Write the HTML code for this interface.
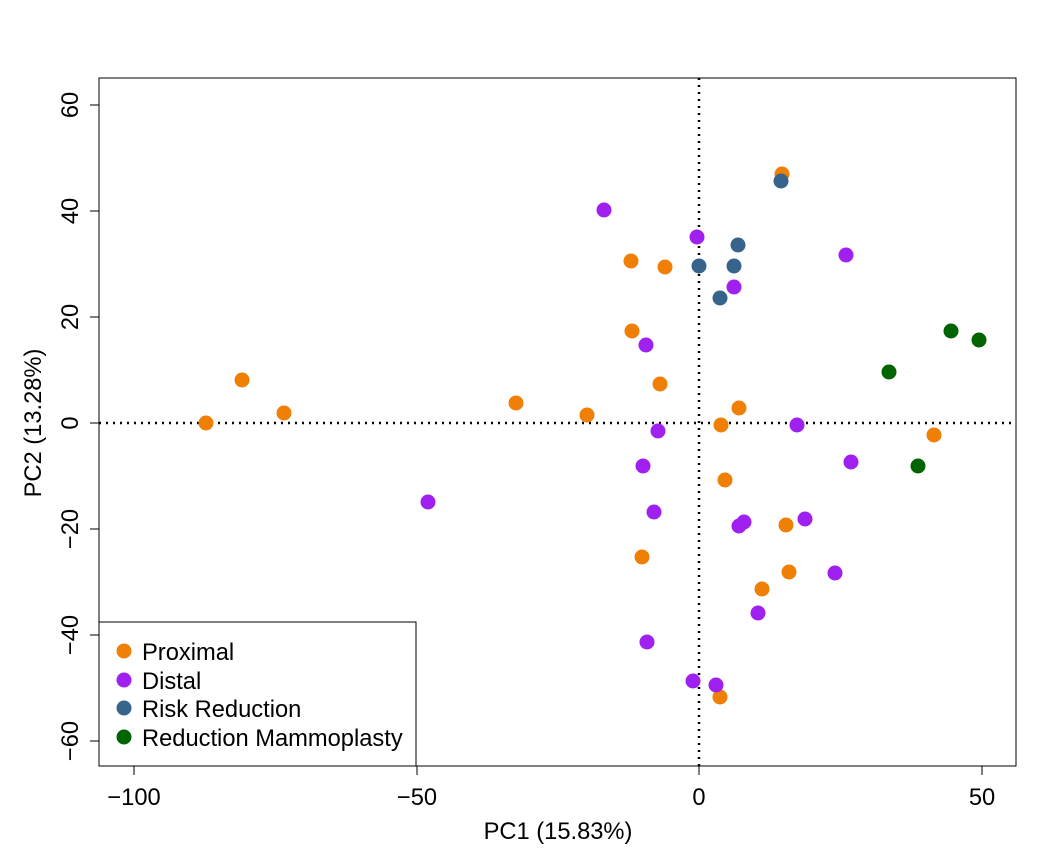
<!DOCTYPE html>
<html><head><meta charset="utf-8"><style>
html,body{margin:0;padding:0;background:#fff;}
svg{display:block;font-family:"Liberation Sans",sans-serif;}
circle{r:7.5px;}
</style></head><body>
<svg width="1056" height="864" viewBox="0 0 1056 864" xmlns="http://www.w3.org/2000/svg">
<rect x="99" y="78" width="917" height="688" fill="none" stroke="#000" stroke-width="1"/>
<line x1="699" y1="78" x2="699" y2="766" stroke="#000" stroke-width="2.5" stroke-dasharray="2,5"/>
<line x1="99" y1="423" x2="1016" y2="423" stroke="#000" stroke-width="2.5" stroke-dasharray="2,5"/>
<g stroke="#000" stroke-width="1">
<line x1="134" y1="766" x2="982" y2="766"/>
<line x1="134" y1="766" x2="134" y2="775"/><line x1="417" y1="766" x2="417" y2="775"/>
<line x1="699" y1="766" x2="699" y2="775"/><line x1="982" y1="766" x2="982" y2="775"/>
<line x1="99" y1="105" x2="99" y2="741"/>
<line x1="90" y1="105" x2="99" y2="105"/><line x1="90" y1="211" x2="99" y2="211"/>
<line x1="90" y1="317" x2="99" y2="317"/><line x1="90" y1="423" x2="99" y2="423"/>
<line x1="90" y1="529" x2="99" y2="529"/><line x1="90" y1="635" x2="99" y2="635"/>
<line x1="90" y1="741" x2="99" y2="741"/>
</g>
<g font-size="23.7" text-anchor="middle" fill="#000">
<text x="134" y="805">−100</text><text x="417" y="805">−50</text>
<text x="699" y="805">0</text><text x="982" y="805">50</text>
<text x="558" y="839">PC1 (15.83%)</text>
</g>
<g font-size="23.7" text-anchor="middle" fill="#000">
<text transform="translate(78,105) rotate(-90)">60</text>
<text transform="translate(78,211) rotate(-90)">40</text>
<text transform="translate(78,317) rotate(-90)">20</text>
<text transform="translate(78,423) rotate(-90)">0</text>
<text transform="translate(78,529) rotate(-90)">−20</text>
<text transform="translate(78,635) rotate(-90)">−40</text>
<text transform="translate(78,741) rotate(-90)">−60</text>
<text transform="translate(41,423) rotate(-90)">PC2 (13.28%)</text>
</g>
<g fill="#F07F06">
<circle cx="782" cy="174" r="7.5"/><circle cx="631" cy="261" r="7.5"/><circle cx="665" cy="267" r="7.5"/>
<circle cx="632" cy="331" r="7.5"/><circle cx="660" cy="384" r="7.5"/><circle cx="242" cy="380" r="7.5"/>
<circle cx="284" cy="413" r="7.5"/><circle cx="206" cy="423" r="7.5"/><circle cx="516" cy="403" r="7.5"/>
<circle cx="587" cy="415" r="7.5"/><circle cx="739" cy="408" r="7.5"/><circle cx="721" cy="425" r="7.5"/>
<circle cx="934" cy="435" r="7.5"/><circle cx="725" cy="480" r="7.5"/><circle cx="786" cy="525" r="7.5"/>
<circle cx="642" cy="557" r="7.5"/><circle cx="789" cy="572" r="7.5"/><circle cx="762" cy="589" r="7.5"/>
<circle cx="720" cy="697" r="7.5"/>
</g>
<g fill="#A020F0">
<circle cx="604" cy="210" r="7.5"/><circle cx="697" cy="237" r="7.5"/><circle cx="846" cy="255" r="7.5"/>
<circle cx="734" cy="287" r="7.5"/><circle cx="646" cy="345" r="7.5"/><circle cx="658" cy="431" r="7.5"/>
<circle cx="797" cy="425" r="7.5"/><circle cx="851" cy="462" r="7.5"/><circle cx="643" cy="466" r="7.5"/>
<circle cx="428" cy="502" r="7.5"/><circle cx="654" cy="512" r="7.5"/><circle cx="744" cy="522" r="7.5"/>
<circle cx="739" cy="526" r="7.5"/><circle cx="805" cy="519" r="7.5"/><circle cx="835" cy="573" r="7.5"/>
<circle cx="758" cy="613" r="7.5"/><circle cx="647" cy="642" r="7.5"/><circle cx="693" cy="681" r="7.5"/>
<circle cx="716" cy="685" r="7.5"/>
</g>
<g fill="#36648B">
<circle cx="781" cy="181" r="7.5"/><circle cx="738" cy="245" r="7.5"/><circle cx="699" cy="266" r="7.5"/>
<circle cx="734" cy="266" r="7.5"/><circle cx="720" cy="298" r="7.5"/>
</g>
<g fill="#006400">
<circle cx="951" cy="331" r="7.5"/><circle cx="979" cy="340" r="7.5"/><circle cx="889" cy="372" r="7.5"/>
<circle cx="918" cy="466" r="7.5"/>
</g>
<rect x="99" y="622" width="317" height="144" fill="#fff" stroke="#000" stroke-width="1"/>
<circle cx="124" cy="651" r="7.5" fill="#F07F06"/>
<circle cx="124" cy="680" r="7.5" fill="#A020F0"/>
<circle cx="124" cy="708" r="7.5" fill="#36648B"/>
<circle cx="124" cy="737" r="7.5" fill="#006400"/>
<g font-size="23.7" fill="#000">
<text x="142" y="660">Proximal</text>
<text x="142" y="689">Distal</text>
<text x="142" y="717">Risk Reduction</text>
<text x="142" y="746">Reduction Mammoplasty</text>
</g>
</svg>
</body></html>
